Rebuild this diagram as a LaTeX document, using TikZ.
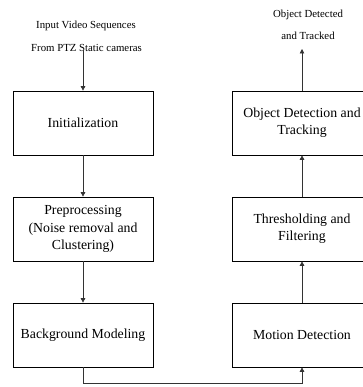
\documentclass[tikz,border=0pt]{standalone}
\usepackage{fontspec}
\setmainfont{Liberation Serif}
\usetikzlibrary{arrows.meta}
\begin{document}
\begin{tikzpicture}[x=1pt,y=-1pt,
  procbox/.style={draw=black, line width=0.7pt, rectangle, minimum width=140pt, minimum height=64pt, align=center, inner sep=2pt, font=\fontsize{13.8}{17.3}\selectfont},
  smalltext/.style={inner sep=0pt, font=\fontsize{10.8}{13}\selectfont},
  arr/.style={draw=black!80, line width=0.7pt, -{Triangle[length=4.5pt,width=4.5pt]}},
  plain/.style={draw=black!80, line width=0.7pt}]
\useasboundingbox (0,0) rectangle (362,387);
\node[smalltext] (in1) at (86,26) {Input Video Sequences};
\node[smalltext] (in2) at (86.5,48) {From PTZ Static cameras};
\node[smalltext] (out1) at (308,15) {Object Detected};
\node[smalltext] (out2) at (308,36) {and Tracked};
\node[procbox] (init) at (83,123) {Initialization};
\node[procbox] (pre) at (83,229) {Preprocessing\\(Noise removal and\\Clustering)};
\node[procbox] (bg) at (83,335) {Background Modeling};
\node[procbox] (md) at (302,335) {Motion Detection};
\node[procbox] (thr) at (302,229) {Thresholding and\\Filtering};
\node[procbox] (odt) at (302,123) {Object Detection and\\Tracking};
\coordinate (instart) at (83,50);
\coordinate (outend) at (302,49);
\coordinate (turn) at (83,383);
\draw[arr] (instart) -- (init.north);
\draw[arr] (init.south) -- (pre.north);
\draw[arr] (pre.south) -- (bg.north);
\draw[arr] (bg.south) -- (turn) -| (md.south);
\draw[arr] (md.north) -- (thr.south);
\draw[arr] (thr.north) -- (odt.south);
\draw[arr] (odt.north) -- (outend);
\end{tikzpicture}
\end{document}
